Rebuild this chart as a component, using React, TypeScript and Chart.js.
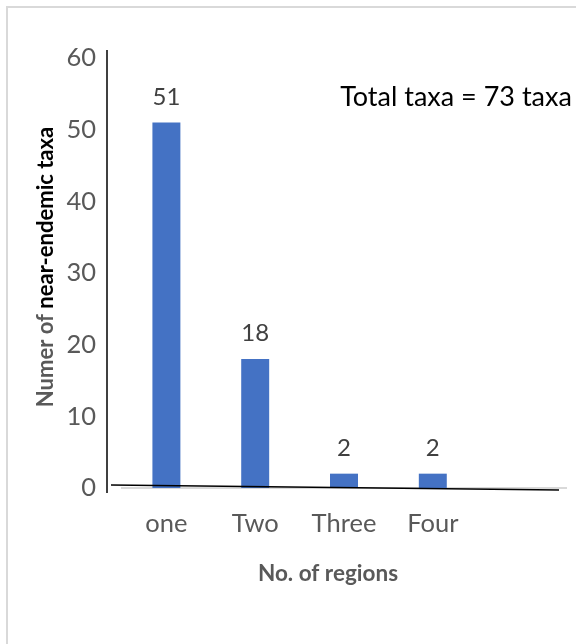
import React, { useEffect, useRef } from "react";
import { Chart, registerables } from "chart.js";

Chart.register(...registerables);

const categories = ["one", "Two", "Three", "Four", ""];
const taxaCounts: (number | null)[] = [51, 18, 2, 2, null];
const yTicks = [0, 10, 20, 30, 40, 50, 60];
const xTitle = "No. of regions";
const yTitleNormal = "Numer of ";
const yTitleBold = "near-endemic taxa";
const totalNote = "Total taxa = 73 taxa";

const FONT = "Lato, 'Open Sans', sans-serif";

const decorPlugin = {
  id: "decor",
  beforeDraw(chart: any) {
    const { ctx, width, height } = chart;
    ctx.save();
    ctx.fillStyle = "#ffffff";
    ctx.fillRect(0, 0, width, height);
    ctx.strokeStyle = "#d9d9d9";
    ctx.lineWidth = 2;
    ctx.beginPath();
    ctx.moveTo(7, height);
    ctx.lineTo(7, 7);
    ctx.lineTo(width, 7);
    ctx.stroke();
    ctx.restore();
  },
  afterDatasetsDraw(chart: any) {
    const { ctx, chartArea } = chart;
    const { left, right, top, bottom } = chartArea;
    ctx.save();
    ctx.strokeStyle = "#000000";
    ctx.lineWidth = 1.5;
    ctx.beginPath();
    ctx.moveTo(left - 15, top - 8);
    ctx.lineTo(left - 15, bottom + 5);
    ctx.stroke();
    ctx.beginPath();
    ctx.moveTo(left - 11, bottom - 3);
    ctx.lineTo(right - 7, bottom + 2);
    ctx.stroke();

    const meta = chart.getDatasetMeta(0);
    ctx.fillStyle = "#404040";
    ctx.font = `24px ${FONT}`;
    ctx.textAlign = "center";
    ctx.textBaseline = "alphabetic";
    meta.data.forEach((bar: any, i: number) => {
      const v = taxaCounts[i];
      if (v === null || v === undefined) return;
      ctx.fillText(String(v), bar.x, bar.y - 18);
    });

    ctx.fillStyle = "#000000";
    ctx.font = `27px ${FONT}`;
    ctx.textAlign = "center";
    ctx.fillText(totalNote, 456, 106);

    ctx.fillStyle = "#595959";
    ctx.font = `bold 22.5px ${FONT}`;
    ctx.textAlign = "center";
    ctx.fillText(xTitle, 328, 581);

    ctx.translate(46, 267);
    ctx.rotate(-Math.PI / 2);
    ctx.textBaseline = "middle";
    ctx.textAlign = "left";
    const f1 = `bold 22px ${FONT}`;
    const f2 = `bold 22px ${FONT}`;
    ctx.font = f1;
    const w1 = ctx.measureText(yTitleNormal).width;
    ctx.font = f2;
    const w2 = ctx.measureText(yTitleBold).width;
    const start = -(w1 + w2) / 2;
    ctx.font = f1;
    ctx.fillStyle = "#595959";
    ctx.fillText(yTitleNormal, start, 0);
    ctx.font = f2;
    ctx.fillStyle = "#000000";
    ctx.fillText(yTitleBold, start + w1, 0);
    ctx.restore();
  },
};

export default function App() {
  const ref = useRef<HTMLCanvasElement | null>(null);
  useEffect(() => {
    if (!ref.current) return;
    const chart = new Chart(ref.current, {
      type: "bar",
      data: {
        labels: categories,
        datasets: [
          {
            data: taxaCounts,
            backgroundColor: "#4472C4",
            borderWidth: 0,
            barPercentage: 0.315,
            categoryPercentage: 1,
          },
        ],
      },
      options: {
        responsive: false,
        animation: false,
        devicePixelRatio: 1,
        layout: { padding: { top: 58, right: 10, left: 0, bottom: 0 } },
        plugins: {
          legend: { display: false },
          tooltip: { enabled: false },
          title: { display: false },
        },
        scales: {
          x: {
            grid: { display: false, drawTicks: false },
            border: { display: true, color: "#d9d9d9", width: 2 },
            ticks: {
              color: "#595959",
              font: { family: FONT, size: 25.5 },
              padding: 20,
              maxRotation: 0,
              autoSkip: false,
            },
            afterFit: (s: any) => {
              s.height = 156;
            },
          },
          y: {
            min: 0,
            max: 60,
            afterBuildTicks: (s: any) => {
              s.ticks = yTicks.map((v) => ({ value: v }));
            },
            grid: { display: false, drawTicks: false },
            border: { display: false },
            ticks: {
              color: "#595959",
              font: { family: FONT, size: 25.5 },
              padding: 26,
            },
            afterFit: (s: any) => {
              s.width = 122;
            },
          },
        },
      },
      plugins: [decorPlugin],
    });
    return () => chart.destroy();
  }, []);
  return (
    <div style={{ position: "absolute", left: 0, top: 0, width: 576, height: 644 }}>
      <canvas ref={ref} width={576} height={644} style={{ display: "block" }} />
    </div>
  );
}
